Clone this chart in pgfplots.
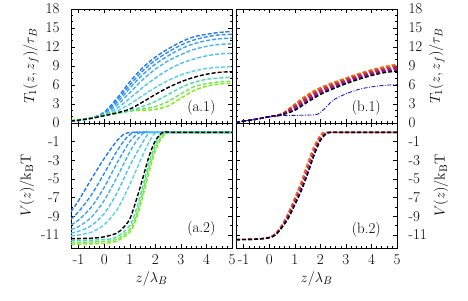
\documentclass[border=0pt]{standalone}
\usepackage{pgfplots}
\pgfplotsset{compat=1.18}
\definecolor{ca1}{RGB}{35,120,245}
\definecolor{ca2}{RGB}{45,140,250}
\definecolor{ca3}{RGB}{55,160,250}
\definecolor{ca4}{RGB}{65,178,250}
\definecolor{ca5}{RGB}{75,195,245}
\definecolor{ca6}{RGB}{85,210,240}
\definecolor{ca8}{RGB}{70,225,170}
\definecolor{ca9}{RGB}{110,232,90}
\definecolor{ca10}{RGB}{125,240,10}
\definecolor{cb1}{RGB}{235,115,30}
\definecolor{cb2}{RGB}{220,75,30}
\definecolor{cb3}{RGB}{200,40,55}
\definecolor{cb4}{RGB}{170,20,110}
\definecolor{cb5}{RGB}{130,10,160}
\definecolor{cblue}{RGB}{20,20,230}
\tikzset{plab/.style={font=\fontsize{15}{17}\selectfont}}
\begin{document}
\begin{tikzpicture}[x=1pt,y=1pt]
\pgfplotsset{
  panel/.style={scale only axis, xmin=-1.3, xmax=5, xtick={-1,0,...,5}, minor x tick num=4,
    tick align=inside, major tick length=4pt, minor tick length=2pt,
    every tick/.style={black, line width=0.5pt}, axis line style={line width=0.8pt},
    tick label style={font=\fontsize{15}{17}\selectfont}, label style={font=\fontsize{15}{17}\selectfont},
    xticklabel style={yshift=-3pt}},
  toppanel/.style={panel, height=114pt, ymin=0, ymax=18, ytick={0,3,...,18}, yticklabels={0,3,6,9,12,15,18}, minor y tick num=2, xticklabels={}},
  botpanel/.style={panel, height=125pt, ymin=-12.4, ymax=1, ytick={-11,-9,...,-1}, yticklabels={-11,-9,-7,-5,-3,-1}, minor y tick num=1,
    xticklabels={-1,0,1,2,3,4,5}, xlabel={$z/\lambda_B$}},
  leftp/.style={yticklabel style={xshift=-8pt}},
  rightp/.style={yticklabel pos=right, yticklabel style={xshift=8pt}},
  cur/.style={line width=1.4pt, dash pattern=on 4pt off 2pt, smooth},
}
% (a.1)
\begin{axis}[toppanel, leftp, width=161pt, at={(71pt,177pt)}, anchor=south west, ylabel={$T_1(z,z_f)/\tau_B$}]
\addplot[cur, ca1] coordinates {(-1.3,0.25)(-1,0.4)(-0.5,0.8)(0,1.7)(0.5,3.9)(1,6.5)(1.5,8.7)(2,10.4)(2.5,11.7)(3,12.8)(3.5,13.6)(4,14.0)(4.5,14.3)(5,14.45)};
\addplot[cur, ca2] coordinates {(-1.3,0.25)(-1,0.4)(-0.5,0.8)(0,1.6)(0.5,3.6)(1,6.0)(1.5,8.2)(2,9.9)(2.5,11.2)(3,12.3)(3.5,13.1)(4,13.6)(4.5,13.9)(5,14.0)};
\addplot[cur, ca3] coordinates {(-1.3,0.25)(-1,0.4)(-0.5,0.75)(0,1.5)(0.5,3.2)(1,5.5)(1.5,7.6)(2,9.3)(2.5,10.6)(3,11.7)(3.5,12.5)(4,13.0)(4.5,13.3)(5,13.4)};
\addplot[cur, ca4] coordinates {(-1.3,0.25)(-1,0.4)(-0.5,0.75)(0,1.4)(0.5,2.8)(1,4.8)(1.5,6.8)(2,8.5)(2.5,9.8)(3,10.8)(3.5,11.6)(4,12.1)(4.5,12.4)(5,12.5)};
\addplot[cur, ca5] coordinates {(-1.3,0.25)(-1,0.4)(-0.5,0.7)(0,1.3)(0.5,2.3)(1,3.9)(1.5,5.6)(2,7.1)(2.5,8.4)(3,9.4)(3.5,10.1)(4,10.6)(4.5,10.9)(5,11.0)};
\addplot[cur, ca6] coordinates {(-1.3,0.25)(-1,0.4)(-0.5,0.7)(0,1.2)(0.5,1.9)(1,3.0)(1.5,4.3)(2,5.6)(2.5,6.7)(3,7.6)(3.5,8.2)(4,8.6)(4.5,8.8)(5,8.9)};
\addplot[cur, ca10] coordinates {(-1.3,0.4)(-1,0.55)(-0.5,0.85)(0,1.25)(0.5,1.65)(1,1.9)(1.5,2.0)(2,2.15)(2.5,2.7)(3,3.9)(3.5,5.1)(4,5.8)(4.5,6.15)(5,6.3)};
\addplot[cur, ca9] coordinates {(-1.3,0.35)(-1,0.5)(-0.5,0.8)(0,1.2)(0.5,1.6)(1,1.9)(1.5,2.2)(2,2.6)(2.5,3.4)(3,4.6)(3.5,5.7)(4,6.2)(4.5,6.5)(5,6.6)};
\addplot[cur, ca8] coordinates {(-1.3,0.3)(-1,0.45)(-0.5,0.75)(0,1.15)(0.5,1.5)(1,1.9)(1.5,2.6)(2,3.4)(2.5,4.5)(3,5.6)(3.5,6.4)(4,6.9)(4.5,7.1)(5,7.2)};
\addplot[cur, black] coordinates {(-1.3,0.3)(-1,0.45)(-0.5,0.75)(0,1.15)(0.5,1.6)(1,2.2)(1.5,3.3)(2,4.5)(2.5,5.6)(3,6.5)(3.5,7.2)(4,7.7)(4.5,8.0)(5,8.1)};
\node[plab] at (axis cs:3.8,2.4) {(a.1)};
\end{axis}
% (a.2)
\begin{axis}[botpanel, leftp, width=161pt, at={(71pt,52pt)}, anchor=south west, ylabel={$V(z)/\mathrm{k_B T}$}]
\addplot[cur, ca1] coordinates {(-1.3,-8.5)(-1,-7.3)(-0.5,-5.0)(0,-2.8)(0.5,-0.9)(0.8,-0.15)(1,0)(1.5,0)(5,0)};
\addplot[cur, ca2] coordinates {(-1.3,-9.3)(-1,-8.5)(-0.5,-6.7)(0,-4.4)(0.5,-2.0)(0.9,-0.5)(1.2,0)(1.7,0)(5,0)};
\addplot[cur, ca3] coordinates {(-1.3,-9.9)(-1,-9.4)(-0.5,-8.0)(0,-5.9)(0.5,-3.3)(1,-1.0)(1.4,0)(1.9,0)(5,0)};
\addplot[cur, ca4] coordinates {(-1.3,-10.4)(-1,-10.1)(-0.5,-9.1)(0,-7.3)(0.5,-4.8)(1,-2.1)(1.35,-0.6)(1.6,0)(2.1,0)(5,0)};
\addplot[cur, ca5] coordinates {(-1.3,-10.8)(-1,-10.6)(-0.5,-10.0)(0,-8.7)(0.5,-6.5)(1,-3.6)(1.5,-1.1)(1.8,0)(2.3,0)(5,0)};
\addplot[cur, ca6] coordinates {(-1.3,-11.1)(-1,-11.0)(-0.5,-10.7)(0,-9.9)(0.5,-8.3)(1,-5.6)(1.5,-2.5)(1.8,-0.8)(2.05,0)(2.5,0)(5,0)};
\addplot[cur, ca10] coordinates {(-1.3,-12.0)(0,-11.9)(0.5,-11.65)(1,-10.7)(1.25,-9.3)(1.5,-7.0)(1.75,-4.3)(2,-2.0)(2.25,-0.6)(2.5,0)(3,0)(5,0)};
\addplot[cur, ca9] coordinates {(-1.3,-11.8)(0,-11.7)(0.5,-11.45)(1,-10.4)(1.25,-8.9)(1.5,-6.5)(1.75,-3.8)(2,-1.6)(2.25,-0.4)(2.45,0)(2.9,0)(5,0)};
\addplot[cur, ca8] coordinates {(-1.3,-11.6)(0,-11.5)(0.5,-11.2)(1,-10.0)(1.25,-8.3)(1.5,-5.9)(1.75,-3.3)(2,-1.3)(2.2,-0.3)(2.4,0)(2.8,0)(5,0)};
\addplot[cur, black] coordinates {(-1.3,-11.4)(-0.5,-11.35)(0,-11.2)(0.5,-10.8)(0.75,-10.2)(1,-9.3)(1.25,-7.3)(1.5,-5.0)(1.75,-2.6)(2,-0.9)(2.3,0)(2.7,0)(5,0)};
\node[plab] at (axis cs:3.8,-10.3) {(a.2)};
\end{axis}
% (b.1)
\begin{axis}[toppanel, rightp, width=161pt, at={(236pt,177pt)}, anchor=south west, ylabel={$T_1(z,z_f)/\tau_B$}]
\addplot[cur, cb1] coordinates {(-1.3,0.1)(-1,0.3)(-0.5,0.6)(0,1.0)(0.5,1.5)(1,3.0)(1.5,4.5)(2,5.6)(2.5,6.4)(3,7.1)(3.5,7.8)(4,8.4)(4.5,8.9)(5,9.3)};
\addplot[cur, cb2] coordinates {(-1.3,0.1)(-1,0.3)(-0.5,0.6)(0,1.0)(0.5,1.46)(1,2.8)(1.5,4.26)(2,5.38)(2.5,6.2)(3,6.92)(3.5,7.62)(4,8.22)(4.5,8.71)(5,9.08)};
\addplot[cur, cb3] coordinates {(-1.3,0.1)(-1,0.3)(-0.5,0.6)(0,1.0)(0.5,1.42)(1,2.6)(1.5,4.02)(2,5.16)(2.5,6.0)(3,6.74)(3.5,7.44)(4,8.04)(4.5,8.52)(5,8.86)};
\addplot[cur, cb4] coordinates {(-1.3,0.1)(-1,0.3)(-0.5,0.6)(0,1.0)(0.5,1.38)(1,2.4)(1.5,3.78)(2,4.94)(2.5,5.8)(3,6.56)(3.5,7.26)(4,7.86)(4.5,8.33)(5,8.64)};
\addplot[cur, cb5] coordinates {(-1.3,0.1)(-1,0.3)(-0.5,0.6)(0,1.0)(0.5,1.34)(1,2.2)(1.5,3.54)(2,4.72)(2.5,5.6)(3,6.38)(3.5,7.08)(4,7.68)(4.5,8.14)(5,8.42)};
\addplot[cur, black] coordinates {(-1.3,0.1)(-1,0.3)(-0.5,0.6)(0,1.0)(0.5,1.3)(1,2.0)(1.5,3.3)(2,4.5)(2.5,5.4)(3,6.2)(3.5,6.9)(4,7.5)(4.5,7.95)(5,8.2)};
\addplot[cblue, line width=0.9pt, smooth, dash pattern=on 4pt off 1.5pt on 1pt off 1.5pt] coordinates {(-1.3,0.1)(-1,0.3)(-0.5,0.6)(0,0.95)(0.5,1.15)(1,1.2)(1.5,1.25)(1.9,1.4)(2.2,2.4)(2.5,3.6)(3,4.6)(3.5,5.3)(4,5.7)(4.5,5.95)(5,6.05)};
\node[plab] at (axis cs:3.8,2.4) {(b.1)};
\end{axis}
% (b.2)
\begin{axis}[botpanel, rightp, width=161pt, at={(236pt,52pt)}, anchor=south west, ylabel={$V(z)/\mathrm{k_B T}$}]
\addplot[cur, cb1] coordinates {(-1.3,-11.5)(-0.5,-11.45)(0,-11.25)(0.25,-10.8)(0.5,-9.9)(0.75,-8.6)(1,-7.0)(1.25,-5.3)(1.5,-3.3)(1.75,-1.5)(2,-0.3)(2.15,0)(2.6,0)(5,0)};
\addplot[cur, cb3] coordinates {(-1.3,-11.5)(-0.5,-11.45)(0,-11.27)(0.25,-10.88)(0.5,-10.02)(0.75,-8.84)(1,-7.32)(1.25,-5.7)(1.5,-3.78)(1.75,-1.9)(2,-0.54)(2.2,-0.05)(2.3,0)(2.7,0)(5,0)};
\addplot[cur, cb5] coordinates {(-1.3,-11.5)(-0.5,-11.45)(0,-11.29)(0.25,-10.96)(0.5,-10.14)(0.75,-9.08)(1,-7.64)(1.25,-6.1)(1.5,-4.26)(1.75,-2.3)(2,-0.78)(2.25,-0.1)(2.35,0)(2.8,0)(5,0)};
\addplot[cur, black] coordinates {(-1.3,-11.5)(-0.5,-11.45)(0,-11.3)(0.25,-11.0)(0.5,-10.2)(0.75,-9.2)(1,-7.8)(1.25,-6.3)(1.5,-4.5)(1.75,-2.5)(2,-0.9)(2.25,-0.1)(2.4,0)(2.9,0)(5,0)};
\node[plab] at (axis cs:3.8,-10.4) {(b.2)};
\end{axis}
\pgfresetboundingbox
\path[use as bounding box] (0,0) rectangle (468,300);
\end{tikzpicture}
\end{document}
